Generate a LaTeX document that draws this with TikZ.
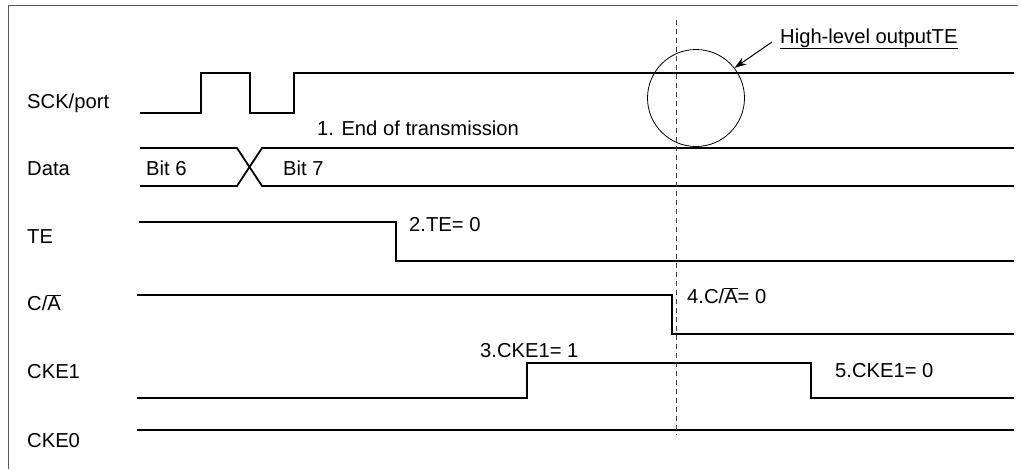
\documentclass[tikz,border=0pt]{standalone}
\usepackage{fontspec}
\setmainfont{Liberation Sans}
\usetikzlibrary{arrows.meta}
\begin{document}
\begin{tikzpicture}[x=1pt,y=-1pt,
  sig/.style={line width=1.8pt, line join=miter, line cap=butt},
  frame/.style={line width=0.9pt, draw=black!65},
  lbl/.style={anchor=base west, inner sep=0pt, font=\fontsize{20.2}{24}\selectfont},
  guide/.style={line width=0.9pt, draw=black!75, dash pattern=on 5pt off 4pt},
  ring/.style={circle, draw, line width=0.8pt, minimum size=97pt, inner sep=0pt},
  pointer/.style={line width=1pt, -{Stealth[length=12pt,width=8pt]}}]
\useasboundingbox (0,0) rectangle (1021,469);
% frame
\draw[frame] (8,469) -- (8,5) -- (1018,5);
% signal names
\node[lbl] (nsck) at (27,108) {SCK/port};
\node[lbl] (ndata) at (27,175) {Data};
\node[lbl] (nte) at (27,243) {TE};
\node[lbl] (nca) at (27,310) {C/$\overline{\mbox{A}}$};
\node[lbl] (ncke1) at (27,378) {CKE1};
\node[lbl] (ncke0) at (27,447) {CKE0};
% waveforms
\draw[sig] (140,113) -- (201,113) -- (201,73) -- (250,73) -- (250,113) -- (294,113) -- (294,73) -- (1014,73);
\draw[sig] (140,148) -- (237,148) -- (262,186) -- (1014,186);
\draw[sig] (140,186) -- (237,186) -- (262,148) -- (1014,148);
\draw[sig] (139,222) -- (396,222) -- (396,261) -- (1014,261);
\draw[sig] (137,295) -- (672,295) -- (672,334) -- (1014,334);
\draw[sig] (137,398) -- (527,398) -- (527,363) -- (811,363) -- (811,398) -- (1014,398);
\draw[sig] (137,430) -- (1014,430);
% data labels
\node[lbl] (b6) at (146,175) {Bit 6};
\node[lbl] (b7) at (283,175) {Bit 7};
% annotations
\node[lbl] (a1) at (317,135) {1. End of transmission};
\node[lbl] (a2) at (409,231) {2.TE= 0};
\node[lbl] (a3) at (480,357) {3.CKE1= 1};
\node[lbl] (a4) at (687,303) {4.C/$\overline{\mbox{A}}$= 0};
\node[lbl] (a5) at (835,377) {5.CKE1= 0};
% guide line
\coordinate (gtop) at (676,20);
\coordinate (gbot) at (676,435);
\draw[guide] (gtop) -- (gbot);
% highlight
\node[ring] (circ) at (696,98) {};
\node[lbl] (hl) at (780,43) {High-level outputTE};
\draw[line width=0.8pt] (hl.base west) ++(0,5) coordinate (ul1) -- (hl.base east |- ul1);
\coordinate (astart) at (772,42);
\draw[pointer] (astart) -- (circ.38);
\end{tikzpicture}
\end{document}
